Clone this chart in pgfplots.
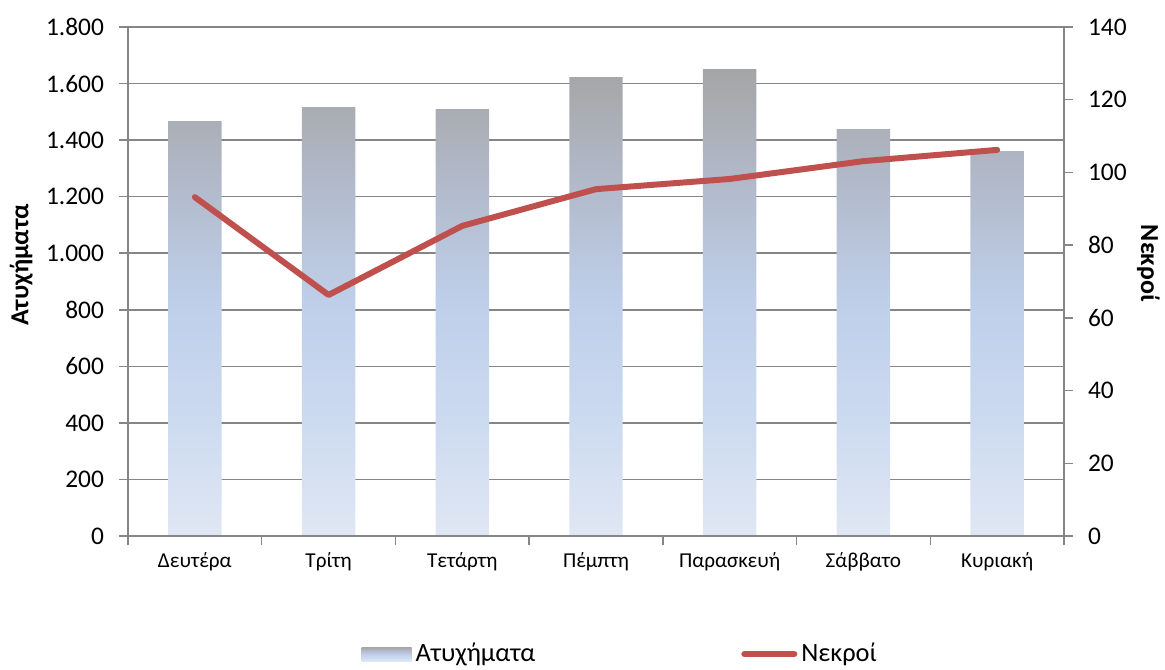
\documentclass[border=0pt]{standalone}
\usepackage{fontspec}
\setmainfont{Carlito}
\usepackage{pgfplots}
\pgfplotsset{compat=1.18}

\definecolor{axisgray}{HTML}{868686}
\definecolor{bartop}{HTML}{A5A5A5}
\definecolor{barup}{HTML}{B2BACB}
\definecolor{barmid}{HTML}{BFCFEA}
\definecolor{barlow}{HTML}{CCDAF0}
\definecolor{barbot}{HTML}{E0E7F4}
\definecolor{linered}{HTML}{C0504D}

\pgfdeclareverticalshading{barshade}{100bp}{color(0bp)=(barbot); color(25bp)=(barbot);
  color(37.5bp)=(barlow); color(50bp)=(barmid); color(62.5bp)=(barup);
  color(75bp)=(bartop); color(100bp)=(bartop)}

\begin{document}
\begin{tikzpicture}
\useasboundingbox (-64pt,-66.5pt) rectangle (518.5pt,268pt);

% accidents (left axis)
\begin{axis}[
  scale only axis, width=468pt, height=254.5pt,
  at={(0,0)}, anchor=south west,
  xmin=-0.5, xmax=6.5, ymin=0, ymax=1800,
  axis x line*=bottom, axis y line*=left,
  axis line style={draw=axisgray, line width=0.75pt},
  xtick={0,...,6},
  xticklabels={Δευτέρα, Τρίτη, Τετάρτη, Πέμπτη, Παρασκευή, Σάββατο, Κυριακή},
  xtick style={draw=none},
  ytick={0,200,...,1800},
  ytick style={draw=axisgray, line width=0.75pt},
  tick align=outside, major tick length=4.5pt,
  ymajorgrids, grid style={draw=axisgray, line width=0.75pt},
  /pgf/number format/assume math mode=true,
  /pgf/number format/.cd, 1000 sep={.}, /pgfplots/.cd,
  y tick label style={font=\fontsize{12.7}{14}\selectfont, xshift=-4pt},
  x tick label style={font=\fontsize{10.6}{12}\selectfont, yshift=-0.5pt},
  every axis y label/.style={at={(axis description cs:-0.114,0.532)}, anchor=center, rotate=90,
    font=\fontsize{13}{15}\selectfont\bfseries},
  ylabel={Ατυχήματα},
  ybar, bar width=0.4, bar shift=0pt,
]
\addplot[draw=none, shade, shading=barshade] coordinates {
  (0,1467) (1,1517) (2,1510) (3,1623) (4,1651) (5,1439) (6,1361)};
\end{axis}

% deaths (right axis)
\begin{axis}[
  scale only axis, width=468pt, height=254.5pt,
  at={(0,0)}, anchor=south west,
  xmin=-0.5, xmax=6.5, ymin=0, ymax=140,
  axis x line*=bottom, axis y line*=right,
  axis line style={draw=axisgray, line width=0.75pt},
  xtick={-0.5,0.5,...,6.5}, xticklabels={},
  xtick style={draw=axisgray, line width=0.75pt},
  ytick={0,20,...,140},
  ytick style={draw=axisgray, line width=0.75pt},
  tick align=outside, major tick length=4.5pt,
  /pgf/number format/assume math mode=true,
  y tick label style={font=\fontsize{12.7}{14}\selectfont, xshift=4pt},
  every axis y label/.style={at={(axis description cs:1.09,0.536)}, anchor=center, rotate=-90,
    font=\fontsize{13}{15}\selectfont\bfseries},
  ylabel={Νεκροί},
  legend columns=2,
  legend cell align=left,
  legend style={at={(axis description cs:0.527,-0.232)}, anchor=center, draw=none, fill=none,
    font=\fontsize{13.2}{14}\selectfont,
    /tikz/every even column/.append style={column sep=101pt}},
]
\addlegendimage{legend image code/.code={
  \path[draw=none, shade, shading=barshade] (0pt,-3.5pt) rectangle (25pt,3.5pt);}}
\addlegendentry{Ατυχήματα}
\addplot[color=linered, line width=3pt, line cap=round, line join=round, mark=none,
  legend image code/.code={\draw[line width=3pt, line cap=round] (0pt,0pt) -- (25pt,0pt);}]
  coordinates {(0,93.2) (1,66.3) (2,85.3) (3,95.4) (4,98.2) (5,103.1) (6,106.2)};
\addlegendentry{Νεκροί}
\end{axis}
\end{tikzpicture}
\end{document}
